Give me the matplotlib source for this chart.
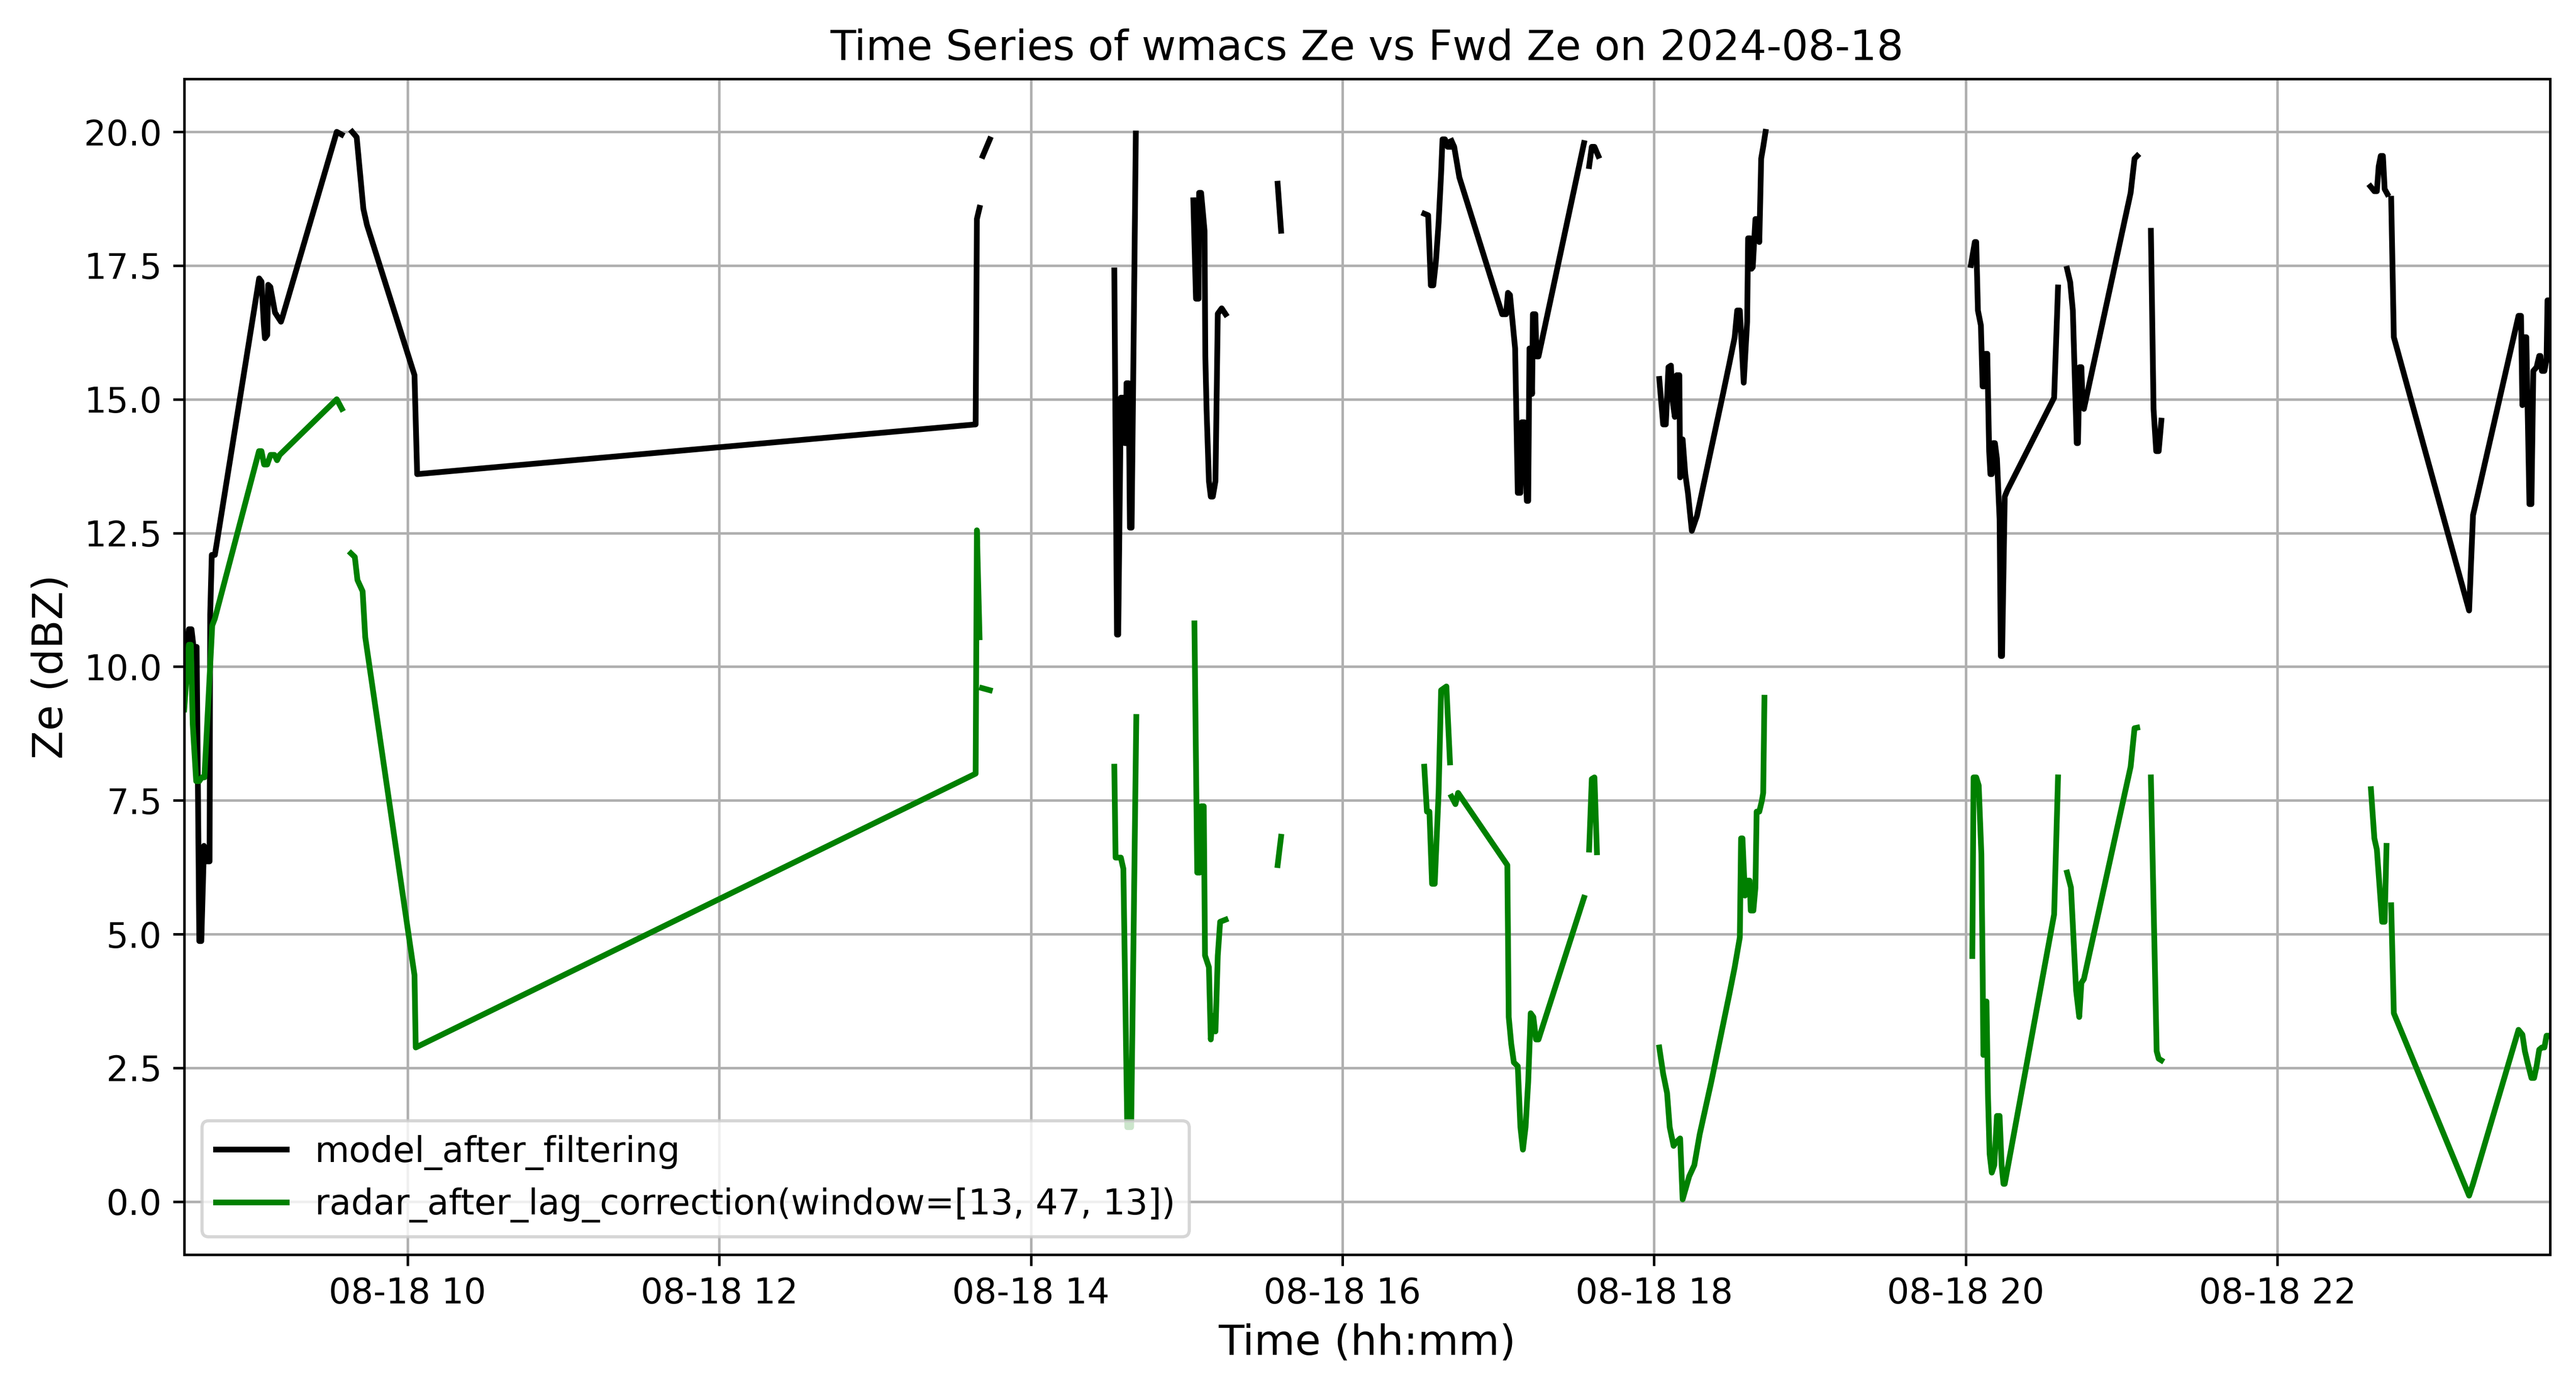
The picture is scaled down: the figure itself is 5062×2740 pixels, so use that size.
import numpy as np
import pandas as pd
import matplotlib
matplotlib.use("Agg")
import matplotlib.pyplot as plt
import matplotlib.dates as mdates

nan = np.nan

# hours of 2024-08-18, nan marks a gap in the record
model_hours = [
    8.567, 8.597, 8.614, 8.627, 8.647, 8.664, 8.677, 8.694, 8.714, 8.73, 8.734, 8.744, 8.764,
    9.048, 9.063, 9.078, 9.085, 9.1, 9.106, 9.12, 9.135, 9.15, 9.188, 9.196, 9.546, 9.577,
    9.61, 9.645, 9.674, 9.717, 9.74, 10.045, 10.062, 13.646, 13.654, 13.671,
    13.68, 13.692, 13.737,
    14.0, 14.536, 14.553, 14.561, 14.578, 14.594, 14.603, 14.611, 14.614, 14.628, 14.636, 14.647, 14.674,
    14.8, 15.043, 15.06, 15.077, 15.08, 15.093, 15.115, 15.12, 15.128, 15.143, 15.155, 15.168,
    15.185, 15.2, 15.225, 15.25,
    15.4, 15.584, 15.606,
    16.0, 16.525, 16.55, 16.567, 16.583, 16.6, 16.617, 16.633, 16.642, 16.658, 16.675, 16.69,
    16.695, 16.7, 16.717, 16.75, 17.025, 17.05, 17.062, 17.075, 17.108, 17.125, 17.142, 17.15,
    17.167, 17.183, 17.192, 17.2, 17.208, 17.217, 17.222, 17.238, 17.245, 17.258, 17.55,
    17.565, 17.583, 17.6, 17.617, 17.642,
    17.8, 18.033, 18.058, 18.075, 18.092, 18.108, 18.117, 18.133, 18.145, 18.162, 18.167, 18.183,
    18.2, 18.217, 18.242, 18.275, 18.358, 18.442, 18.483, 18.517, 18.533, 18.55, 18.575, 18.597,
    18.603, 18.617, 18.625, 18.633, 18.65, 18.663, 18.675, 18.687, 18.7, 18.715,
    19.0, 20.033, 20.058, 20.067, 20.078, 20.097, 20.108, 20.117, 20.125, 20.138, 20.15, 20.158,
    20.167, 20.175, 20.187, 20.2, 20.217, 20.225, 20.233, 20.25, 20.267, 20.567, 20.592,
    20.62, 20.65, 20.67, 20.687, 20.712, 20.72, 20.73, 20.742, 20.75, 20.758, 21.058, 21.083, 21.1,
    21.15, 21.188, 21.205, 21.222, 21.238, 21.255,
    22.0, 22.597, 22.622, 22.638, 22.65, 22.663, 22.677, 22.688, 22.705,
    22.718, 22.73, 22.747, 23.23, 23.255, 23.547, 23.563, 23.572, 23.58, 23.597, 23.617, 23.63,
    23.642, 23.663, 23.68, 23.688, 23.697, 23.713, 23.727, 23.733, 23.749,
]
model_ze = [
    9.7, 10.7, 10.7, 10.37, 10.37, 4.87, 4.87, 6.65, 6.36, 6.36, 10.98, 12.09, 12.09,
    17.26, 17.2, 16.4, 16.14, 16.2, 17.14, 17.1, 16.86, 16.62, 16.45, 16.52, 20.0, 19.95,
    nan, 20.0, 19.9, 18.56, 18.26, 15.45, 13.6, 14.53, 18.37, 18.58,
    nan, 19.55, 19.86,
    nan, 17.41, 10.6, 10.6, 15.03, 15.03, 14.18, 14.18, 15.3, 15.3, 12.6, 12.6, 19.97,
    nan, 18.72, 16.88, 16.88, 18.86, 18.86, 18.15, 15.8, 14.8, 13.47, 13.18, 13.18,
    13.47, 16.6, 16.7, 16.59,
    nan, 19.03, 18.15,
    nan, 18.47, 18.44, 17.13, 17.13, 17.59, 18.3, 19.22, 19.86, 19.86, 19.72, 19.72,
    nan, 19.83, 19.72, 19.15, 16.59, 16.59, 16.99, 16.95, 15.95, 13.25, 13.25, 14.57,
    14.57, 13.1, 13.1, 15.95, 15.95, 15.1, 16.59, 16.59, 15.8, 15.8, 19.79,
    nan, 19.36, 19.72, 19.72, 19.55,
    nan, 15.38, 14.53, 14.53, 15.6, 15.63, 15.0, 14.67, 15.45, 15.45, 13.54, 14.25,
    13.6, 13.25, 12.54, 12.82, 13.96, 15.1, 15.67, 16.16, 16.66, 16.66, 15.31, 16.45,
    18.01, 18.01, 17.44, 17.47, 18.37, 18.37, 17.94, 19.5, 19.72, 20.0,
    nan, 17.51, 17.94, 17.94, 16.66, 16.38, 15.24, 15.24, 15.85, 15.85, 14.03, 13.6,
    13.6, 14.18, 14.18, 13.89, 12.76, 10.2, 10.2, 13.18, 13.3, 15.03, 17.09,
    nan, 17.44, 17.19, 16.66, 14.18, 14.18, 15.6, 15.6, 14.89, 14.82, 18.86, 19.5, 19.55,
    nan, 18.15, 14.82, 14.03, 14.03, 14.6,
    nan, 18.98, 18.89, 18.89, 19.36, 19.55, 19.55, 18.93, 18.84,
    nan, 18.75, 16.16, 11.05, 12.83, 16.56, 16.56, 14.89, 16.16, 16.16, 13.04, 13.04,
    15.53, 15.6, 15.81, 15.81, 15.53, 15.53, 15.74, 16.85, 16.85,
]

radar_hours = [
    8.567, 8.597, 8.61, 8.622, 8.644, 8.664, 8.68, 8.697, 8.747, 8.764,
    9.047, 9.063, 9.08, 9.1, 9.121, 9.146, 9.163, 9.18, 9.546, 9.579,
    9.61, 9.637, 9.662, 9.679, 9.712, 9.729, 10.045, 10.053, 13.646, 13.654, 13.671,
    13.68, 13.687, 13.737,
    14.0, 14.536, 14.544, 14.578, 14.594, 14.619, 14.644, 14.677,
    14.8, 15.05, 15.068, 15.085, 15.093, 15.11, 15.118, 15.143, 15.155, 15.168, 15.185, 15.2,
    15.215, 15.25,
    15.4, 15.584, 15.606,
    16.0, 16.525, 16.542, 16.558, 16.575, 16.592, 16.617, 16.633, 16.667, 16.69,
    16.695, 16.7, 16.725, 16.742, 17.058, 17.067, 17.083, 17.1, 17.125, 17.142, 17.158, 17.175,
    17.192, 17.208, 17.225, 17.242, 17.258, 17.55,
    17.565, 17.583, 17.6, 17.617, 17.633,
    17.8, 18.033, 18.058, 18.083, 18.1, 18.125, 18.142, 18.167, 18.183, 18.225, 18.258, 18.292,
    18.367, 18.442, 18.483, 18.517, 18.55, 18.558, 18.567, 18.583, 18.6, 18.613, 18.62, 18.637,
    18.65, 18.658, 18.675, 18.692, 18.7, 18.708,
    19.0, 20.042, 20.05, 20.067, 20.083, 20.1, 20.108, 20.113, 20.125, 20.133, 20.142, 20.153,
    20.167, 20.183, 20.2, 20.217, 20.23, 20.242, 20.25, 20.567, 20.592,
    20.62, 20.65, 20.675, 20.692, 20.708, 20.728, 20.742, 20.758, 21.058, 21.083, 21.1,
    21.15, 21.188, 21.225, 21.238, 21.255,
    22.0, 22.6, 22.622, 22.638, 22.672, 22.688, 22.7,
    22.718, 22.73, 22.747, 23.23, 23.255, 23.547, 23.572, 23.588, 23.605, 23.63, 23.647,
    23.663, 23.68, 23.697, 23.713, 23.727, 23.749,
]
radar_ze = [
    9.2, 10.41, 10.41, 8.92, 7.86, 7.86, 7.93, 7.93, 10.77, 10.9,
    14.03, 14.03, 13.78, 13.78, 13.96, 13.96, 13.86, 13.96, 15.0, 14.82,
    nan, 12.12, 12.05, 11.62, 11.41, 10.55, 4.23, 2.88, 8.0, 12.55, 10.55,
    nan, 9.6, 9.56,
    nan, 8.13, 6.43, 6.43, 6.22, 1.39, 1.39, 9.06,
    nan, 10.81, 6.15, 6.15, 7.39, 7.39, 4.6, 4.38, 3.03, 3.47, 3.18, 4.6,
    5.23, 5.27,
    nan, 6.29, 6.82,
    nan, 8.13, 7.29, 7.29, 5.94, 5.94, 7.64, 9.56, 9.63, 8.21,
    nan, 7.57, 7.43, 7.64, 6.29, 3.45, 2.95, 2.6, 2.53, 1.39, 0.97, 1.39,
    2.24, 3.52, 3.45, 3.03, 3.03, 5.68,
    nan, 6.58, 7.9, 7.93, 6.53,
    nan, 2.88, 2.39, 2.03, 1.39, 1.04, 1.11, 1.18, 0.04, 0.47, 0.68, 1.25,
    2.24, 3.3, 3.88, 4.38, 4.94, 6.79, 6.79, 5.72, 6.0, 6.0, 5.44, 5.44,
    5.87, 7.29, 7.29, 7.5, 7.64, 9.42,
    nan, 4.59, 7.93, 7.93, 7.78, 6.5, 4.38, 2.74, 3.74, 3.74, 2.03, 0.89,
    0.54, 0.68, 1.6, 1.6, 0.68, 0.33, 0.33, 5.37, 7.93,
    nan, 6.15, 5.87, 4.87, 3.95, 3.45, 4.09, 4.16, 8.13, 8.85, 8.86,
    nan, 7.93, 2.81, 2.67, 2.64,
    nan, 7.71, 6.79, 6.58, 5.23, 5.23, 6.65,
    nan, 5.54, 3.52, 0.11, 0.33, 3.21, 3.12, 2.81, 2.6, 2.31, 2.31,
    2.53, 2.84, 2.88, 2.88, 3.1, 3.1,
]

day = pd.Timestamp("2024-08-18")
model_time = day + pd.to_timedelta(model_hours, unit="h")
radar_time = day + pd.to_timedelta(radar_hours, unit="h")

plt.rcParams["font.size"] = 11

fig, ax = plt.subplots(figsize=(5062 / 450, 2740 / 450))
fig.subplots_adjust(left=0.0715, right=0.9899, bottom=0.1001, top=0.9434)

ax.plot(model_time, model_ze, color="black", linewidth=1.8, label="model_after_filtering")
ax.plot(radar_time, radar_ze, color="green", linewidth=1.8,
        label="radar_after_lag_correction(window=[13, 47, 13])")

ax.set_xlim(model_time[0], model_time[-1])
ax.set_ylim(-0.99, 20.99)
ax.xaxis.set_major_locator(mdates.HourLocator(byhour=range(0, 24, 2)))
ax.xaxis.set_major_formatter(mdates.DateFormatter("%m-%d %H"))

ax.set_title("Time Series of wmacs Ze vs Fwd Ze on 2024-08-18", fontsize=13.2)
ax.set_xlabel("Time (hh:mm)", fontsize=13.2)
ax.set_ylabel("Ze (dBZ)", fontsize=13.2)
ax.grid(True)
ax.legend(loc="lower left", fontsize=11.1)

fig.savefig("out.png", dpi=450)
